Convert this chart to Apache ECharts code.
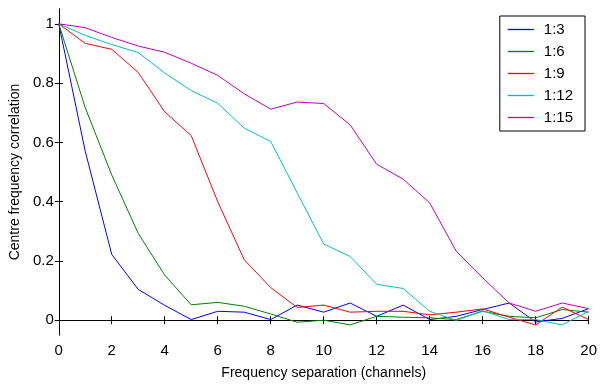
<!DOCTYPE html>
<html>
<head>
<meta charset="utf-8">
<script src="https://cdn.jsdelivr.net/npm/echarts@6/dist/echarts.min.js"></script>
<style>html,body{margin:0;padding:0;background:#fff}#c{width:600px;height:385px}</style>
</head>
<body>
<div id="c"></div>
<script>
var separations = [0,1,2,3,4,5,6,7,8,9,10,11,12,13,14,15,16,17,18,19,20];
var seriesNames = ['1:3','1:6','1:9','1:12','1:15'];
var r1_3  = [1,0.57,0.222,0.104,0.05,0.002,0.03,0.027,0.002,0.051,0.027,0.058,0.013,0.051,0.002,0.013,0.036,0.058,-0.006,0.006,0.039];
var r1_6  = [1,0.717,0.49,0.293,0.152,0.052,0.06,0.047,0.021,-0.007,0,-0.016,0.013,0.01,0.008,0.002,0.03,0.013,0.008,0.036,0.027];
var r1_9  = [1,0.934,0.914,0.836,0.703,0.623,0.4,0.204,0.11,0.043,0.051,0.027,0.03,0.03,0.018,0.027,0.038,0.01,-0.016,0.044,0.002];
var r1_12 = [1,0.961,0.93,0.903,0.834,0.775,0.732,0.648,0.603,0.43,0.257,0.215,0.121,0.107,0.03,-0.001,0.032,0.002,0.002,-0.016,0.03];
var r1_15 = [1,0.987,0.954,0.925,0.904,0.867,0.826,0.764,0.712,0.736,0.731,0.659,0.526,0.476,0.396,0.233,0.143,0.058,0.03,0.058,0.039];
var yTicks = [0,0.2,0.4,0.6,0.8,1];
var colors = ['#0000ff','#008000','#ff0000','#00bfbf','#bf00bf'];
var allValues = [r1_3, r1_6, r1_9, r1_12, r1_15];

var FONT = 'Liberation Sans, Arial, sans-serif';
var chart = echarts.init(document.getElementById('c'), null, {renderer:'canvas'});

function pairs(vals){ return separations.map(function(x,i){ return [x, vals[i]]; }); }

var axisLine = {show:true, lineStyle:{color:'#000', width:1}};
var tick = {show:true, inside:true, length:4, lineStyle:{color:'#000', width:1}};
var lineIcon = 'path://M0,0 L26,0 L26,1.3 L0,1.3 Z';

chart.setOption({
  animation:false,
  backgroundColor:'#fff',
  grid:{left:58, right:7, top:9, bottom:46, containLabel:false},
  legend:{
    orient:'vertical', right:15, top:16,
    padding:[6,12,6,8], itemGap:7, itemWidth:26, itemHeight:13,
    backgroundColor:'#fff', borderColor:'#000', borderWidth:1, borderRadius:0,
    textStyle:{fontFamily:FONT, fontSize:15, color:'#000', padding:[0,0,0,5]},
    data:seriesNames.map(function(n){ return {name:n, icon:lineIcon}; })
  },
  xAxis:[
    {type:'value', min:0, max:20, interval:2, position:'bottom',
     name:'Frequency separation (channels)', nameLocation:'middle', nameGap:31,
     nameTextStyle:{fontFamily:FONT, fontSize:14, color:'#000'},
     axisLine:axisLine, axisTick:tick, splitLine:{show:false},
     axisLabel:{fontFamily:FONT, fontSize:15, color:'#000', margin:8}},
    {type:'value', min:0, max:20, interval:2, position:'top',
     axisLine:axisLine, axisTick:tick, splitLine:{show:false}, axisLabel:{show:false}}
  ],
  yAxis:[
    {type:'value', min:-0.05, max:1.05, position:'left',
     name:'Centre frequency correlation', nameLocation:'middle', nameGap:31,
     nameTextStyle:{fontFamily:FONT, fontSize:14, color:'#000'},
     axisLine:axisLine,
     axisTick:{show:true, inside:true, length:4, lineStyle:{color:'#000', width:1}, customValues:yTicks},
     splitLine:{show:false},
     axisLabel:{fontFamily:FONT, fontSize:15, color:'#000', margin:5, customValues:yTicks}},
    {type:'value', min:-0.05, max:1.05, position:'right',
     axisLine:axisLine,
     axisTick:{show:true, inside:true, length:4, lineStyle:{color:'#000', width:1}, customValues:yTicks},
     splitLine:{show:false}, axisLabel:{show:false, customValues:yTicks}}
  ],
  series: seriesNames.map(function(n,i){
    return {name:n, type:'line', xAxisIndex:0, yAxisIndex:0, symbol:'none', showSymbol:false,
      color:colors[i], lineStyle:{color:colors[i], width:1}, data:pairs(allValues[i]), z:2+i};
  })
});
</script>
</body>
</html>
